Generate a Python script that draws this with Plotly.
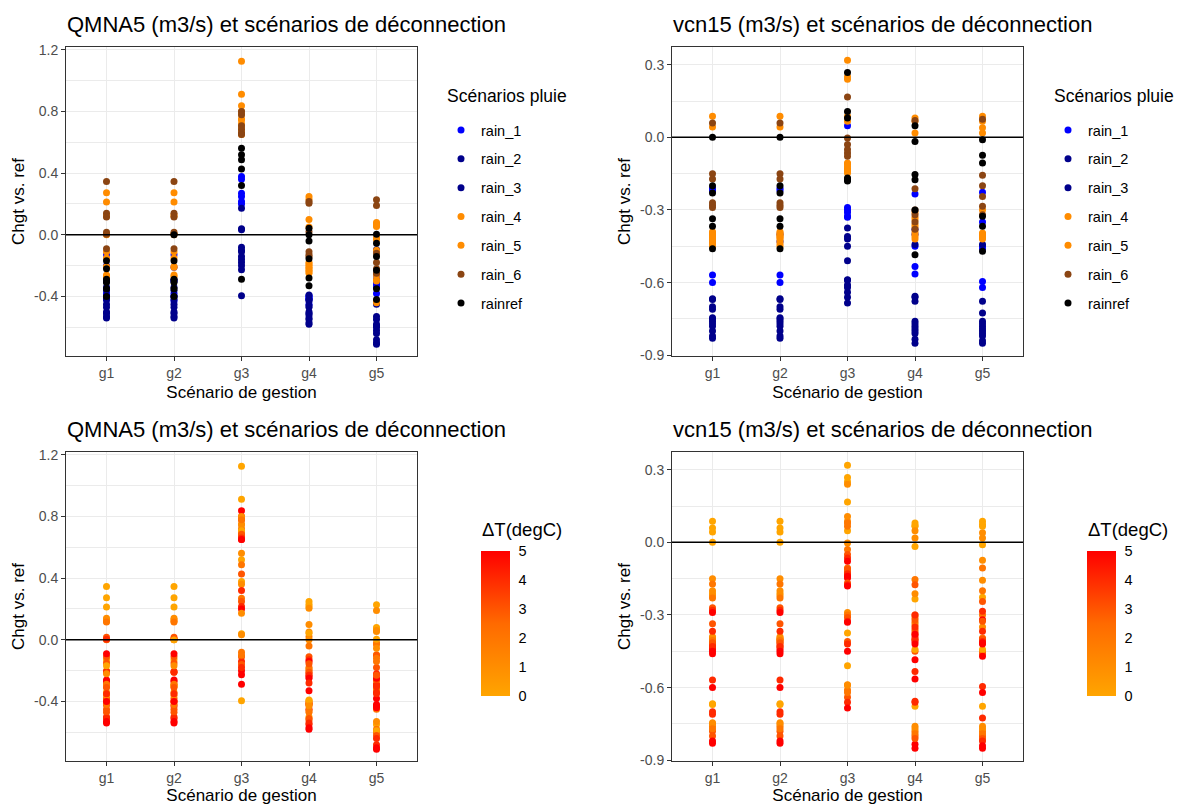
import plotly.graph_objects as go

GROUPS = ["g1", "g2", "g3", "g4", "g5"]
RAINS = ["rain_1", "rain_2", "rain_3", "rain_4", "rain_5", "rain_6", "rainref"]
RAIN_COLORS = ["#0000FF", "#00008B", "#00008B", "#FF8C00", "#FF8C00", "#8B4513", "#000000"]
DT_LEVELS = [0, 1, 2, 3, 4, 5]

# QMNA5 values: per rain scenario, per group (g1..g5), one value per DT level
q_rain_1 = [[-0.13, -0.20, -0.30, -0.38, -0.40, -0.42],
            [-0.13, -0.21, -0.30, -0.38, -0.40, -0.43],
            [0.378, 0.36, 0.27, 0.249, 0.216, 0.20],
            [-0.395, -0.40, -0.41, -0.415, -0.42, -0.45],
            [-0.324, -0.26, -0.29, -0.31, -0.34, -0.38]]
q_rain_2 = [[-0.29, -0.34, -0.40, -0.45, -0.50, -0.54],
            [-0.29, -0.34, -0.40, -0.45, -0.50, -0.54],
            [0.04, 0.173, -0.08, -0.11, -0.14, -0.20],
            [-0.50, -0.42, -0.46, -0.52, -0.55, -0.58],
            [-0.55, -0.53, -0.58, -0.60, -0.68, -0.71]]
q_rain_3 = [[-0.30, -0.36, -0.42, -0.47, -0.51, -0.53],
            [-0.30, -0.36, -0.42, -0.47, -0.51, -0.53],
            [-0.396, 0.032, -0.10, -0.16, -0.18, -0.227],
            [-0.39, -0.43, -0.47, -0.51, -0.54, -0.57],
            [-0.59, -0.097, -0.45, -0.62, -0.64, -0.70]]
q_rain_4 = [[0.272, 0.13, 0.005, -0.11, -0.205, -0.26],
            [0.272, 0.13, 0.005, -0.11, -0.205, -0.26],
            [1.125, 0.75, 0.72, 0.80, 0.78, 0.837],
            [0.249, 0.10, -0.18, -0.20, -0.22, -0.24],
            [0.08, 0.054, -0.02, -0.10, -0.29, -0.44]]
q_rain_5 = [[0.212, 0.12, 0.0, -0.15, -0.21, -0.27],
            [0.212, 0.12, 0.0, -0.15, -0.21, -0.27],
            [0.912, 0.746, 0.70, 0.68, 0.66, 0.65],
            [0.231, 0.05, -0.19, -0.21, -0.23, -0.25],
            [0.07, 0.06, -0.03, -0.26, -0.30, -0.43]]
q_rain_6 = [[0.346, 0.14, 0.115, 0.017, 0.004, -0.09],
            [0.346, 0.14, 0.115, 0.017, 0.004, -0.09],
            [0.707, 0.80, 0.778, 0.685, 0.66, 0.65],
            [0.216, 0.205, 0.02, -0.11, -0.13, -0.14],
            [0.227, 0.19, -0.12, -0.18, -0.22, -0.25]]
q_rainref = [[-0.169, -0.22, -0.288, -0.31, -0.35, -0.40],
             [0.0, -0.169, -0.288, -0.31, -0.35, -0.40],
             [0.519, 0.562, 0.486, 0.426, 0.32, -0.288],
             [0.043, 0.0, -0.04, -0.156, -0.28, -0.33],
             [0.004, -0.054, -0.14, -0.23, -0.35, -0.42]]

# vcn15 values
v_rain_1 = [[-0.21, -0.22, -0.40, -0.43, -0.568, -0.60],
            [-0.21, -0.22, -0.40, -0.43, -0.568, -0.60],
            [0.048, -0.29, -0.30, -0.31, -0.326, -0.33],
            [-0.234, -0.38, -0.40, -0.45, -0.533, -0.564],
            [-0.227, -0.35, -0.45, -0.46, -0.595, -0.62]]
v_rain_2 = [[-0.667, -0.745, -0.76, -0.78, -0.70, -0.83],
            [-0.667, -0.745, -0.76, -0.78, -0.70, -0.83],
            [-0.374, -0.588, -0.61, -0.64, -0.66, -0.684],
            [-0.677, -0.76, -0.78, -0.80, -0.656, -0.834],
            [-0.677, -0.76, -0.78, -0.80, -0.725, -0.85]]
v_rain_3 = [[-0.67, -0.75, -0.77, -0.80, -0.71, -0.82],
            [-0.67, -0.75, -0.77, -0.80, -0.71, -0.82],
            [-0.51, -0.59, -0.62, -0.41, -0.42, -0.45],
            [-0.443, -0.77, -0.79, -0.81, -0.66, -0.85],
            [-0.443, -0.77, -0.79, -0.81, -0.82, -0.84]]
v_rain_4 = [[0.087, -0.39, -0.40, -0.41, -0.42, -0.44],
            [0.087, -0.39, -0.40, -0.41, -0.42, -0.44],
            [0.318, 0.087, -0.106, -0.12, -0.135, -0.147],
            [0.08, -0.31, -0.33, -0.36, -0.39, -0.41],
            [0.087, 0.04, -0.395, -0.40, -0.41, -0.42]]
v_rain_5 = [[0.043, -0.395, -0.405, -0.415, -0.43, -0.45],
            [0.043, -0.395, -0.405, -0.415, -0.43, -0.45],
            [0.25, 0.24, 0.066, -0.11, -0.13, -0.14],
            [0.066, 0.018, -0.34, -0.37, -0.40, -0.42],
            [0.066, 0.018, -0.30, -0.40, -0.41, -0.415]]
v_rain_6 = [[0.059, -0.15, -0.172, -0.27, -0.28, -0.29],
            [0.059, -0.15, -0.172, -0.27, -0.28, -0.29],
            [0.167, -0.003, -0.03, -0.05, -0.065, -0.078],
            [0.07, -0.212, -0.30, -0.32, -0.35, -0.38],
            [0.075, -0.157, -0.20, -0.244, -0.285, -0.32]]
v_rainref = [[0.0, -0.20, -0.23, -0.336, -0.367, -0.46],
             [0.0, -0.20, -0.23, -0.336, -0.367, -0.46],
             [0.268, 0.107, 0.08, -0.168, -0.175, -0.18],
             [-0.017, 0.048, -0.154, -0.175, -0.30, -0.485],
             [-0.01, -0.074, -0.106, -0.326, -0.367, -0.47]]

Q_SERIES = [q_rain_1, q_rain_2, q_rain_3, q_rain_4, q_rain_5, q_rain_6, q_rainref]
V_SERIES = [v_rain_1, v_rain_2, v_rain_3, v_rain_4, v_rain_5, v_rain_6, v_rainref]

Q_TICKS = [-0.4, 0.0, 0.4, 0.8, 1.2]
Q_TICKTEXT = ["-0.4", "0.0", "0.4", "0.8", "1.2"]
Q_MINOR = [-0.6, -0.2, 0.2, 0.6, 1.0]
V_TICKS = [-0.9, -0.6, -0.3, 0.0, 0.3]
V_TICKTEXT = ["-0.9", "-0.6", "-0.3", "0.0", "0.3"]
V_MINOR = [-0.75, -0.45, -0.15, 0.15]

TITLE_Q = "QMNA5 (m3/s) et scénarios de déconnection"
TITLE_V = "vcn15 (m3/s) et scénarios de déconnection"
LEGEND_TITLE = "Scénarios pluie"
CBAR_TITLE = "ΔT(degC)"

W, H = 1180, 805
FONT = "Liberation Sans, Arial, sans-serif"


def px(xp):
    return xp / W


def py(yp):
    return 1 - yp / H


def flat(series):
    xs, ys, ds = [], [], []
    for g, vals in zip(GROUPS, series):
        for d, v in zip(DT_LEVELS, vals):
            xs.append(g)
            ys.append(v)
            ds.append(d)
    return xs, ys, ds


fig = go.Figure()

# top panels: coloured by rain scenario
for series_set, xa, ya, leg in [(Q_SERIES, "x", "y", "legend"), (V_SERIES, "x2", "y2", "legend2")]:
    for name, col, series in zip(RAINS, RAIN_COLORS, series_set):
        xs, ys, _ = flat(series)
        fig.add_trace(go.Scatter(
            x=xs, y=ys, mode="markers", name=name,
            marker=dict(color=col, size=7, line=dict(width=0)),
            xaxis=xa, yaxis=ya, legend=leg, legendgroup=leg + name,
        ))

# bottom panels: coloured by delta T
for series_set, xa, ya, cax in [(Q_SERIES, "x3", "y3", "coloraxis"), (V_SERIES, "x4", "y4", "coloraxis2")]:
    X, Y, D = [], [], []
    for series in series_set:
        xs, ys, ds = flat(series)
        X += xs; Y += ys; D += ds
    fig.add_trace(go.Scatter(
        x=X, y=Y, mode="markers", showlegend=False,
        marker=dict(color=D, coloraxis=cax, size=7, line=dict(width=0)),
        xaxis=xa, yaxis=ya,
    ))

# panel geometry in pixels (left, right, top, bottom)
panels = {
    "1": (66, 417, 47, 356),
    "2": (672, 1023, 47, 356),
    "3": (66, 417, 452, 761),
    "4": (672, 1023, 452, 761),
}

axis_common = dict(
    showline=True, linecolor="#333333", linewidth=1, mirror=True,
    ticks="outside", ticklen=4, tickcolor="#333333", tickwidth=1,
    tickfont=dict(family=FONT, size=14, color="#4D4D4D"),
    gridcolor="#EBEBEB", gridwidth=1.2, zeroline=False,
)

layout = dict(
    width=W, height=H, margin=dict(l=0, r=0, t=0, b=0),
    paper_bgcolor="white", plot_bgcolor="white",
    font=dict(family=FONT, color="black"),
)

for k, (l, r, t, b) in panels.items():
    sfx = "" if k == "1" else k
    is_q = k in ("1", "3")
    layout["xaxis" + sfx] = dict(
        axis_common, domain=[px(l), px(r)], anchor="y" + sfx,
        type="category", categoryorder="array", categoryarray=GROUPS,
        range=[-0.6, 4.6], showgrid=True,
        title=dict(text="Scénario de gestion", font=dict(family=FONT, size=17, color="black"), standoff=6),
        automargin=False,
    )
    layout["yaxis" + sfx] = dict(
        axis_common, domain=[py(b), py(t)], anchor="x" + sfx,
        range=[-0.786, 1.218] if is_q else [-0.903, 0.373],
        tickmode="array",
        tickvals=Q_TICKS if is_q else V_TICKS,
        ticktext=Q_TICKTEXT if is_q else V_TICKTEXT,
        minor=dict(tickmode="array", tickvals=Q_MINOR if is_q else V_MINOR,
                   showgrid=True, gridcolor="#EBEBEB", gridwidth=0.6, ticks=""),
        title=dict(text="Chgt vs. ref", font=dict(family=FONT, size=17, color="black"), standoff=5),
        automargin=False,
    )

fig.update_layout(**layout)

# zero lines
for k in ["1", "2", "3", "4"]:
    sfx = "" if k == "1" else k
    fig.add_shape(type="line", xref="x" + sfx + " domain", yref="y" + sfx,
                  x0=0, x1=1, y0=0, y1=0, line=dict(color="black", width=1.5), layer="above")

# panel titles
for (l, r, t, b), txt in zip(panels.values(), [TITLE_Q, TITLE_V, TITLE_Q, TITLE_V]):
    fig.add_annotation(text=txt, xref="paper", yref="paper", x=px(l - 1), y=py(t - 23),
                       xanchor="left", yanchor="middle", showarrow=False,
                       font=dict(family=FONT, size=22, color="black"))

# legends (titles drawn as annotations so the item spacing can match)
legend_common = dict(
    yanchor="top", xanchor="left", bgcolor="rgba(0,0,0,0)",
    font=dict(family=FONT, size=14.5, color="black"),
    tracegroupgap=7,
)
fig.update_layout(
    legend=dict(legend_common, x=px(441), y=py(114)),
    legend2=dict(legend_common, x=px(1048), y=py(114)),
)
for xl in [445, 1052]:
    fig.add_annotation(text=LEGEND_TITLE, xref="paper", yref="paper", x=px(xl), y=py(96),
                       xanchor="left", yanchor="middle", showarrow=False,
                       font=dict(family=FONT, size=17.5, color="black"))

COLORSCALE = [[0, "#FFA500"], [0.5, "#FF6A00"], [1, "#FF0000"]]
cb_common = dict(
    len=145, lenmode="pixels", thickness=29, thicknessmode="pixels",
    xanchor="left", xpad=0, ypad=0, yanchor="middle", y=py(623.5),
    outlinewidth=0, tickmode="array", tickvals=DT_LEVELS,
    ticks="outside", ticklen=6, tickcolor="rgba(255,255,255,0)", tickwidth=1,
    tickfont=dict(family=FONT, size=14.5, color="black"),
)
fig.update_layout(
    coloraxis=dict(cmin=0, cmax=5, colorscale=COLORSCALE, colorbar=dict(cb_common, x=px(481))),
    coloraxis2=dict(cmin=0, cmax=5, colorscale=COLORSCALE, colorbar=dict(cb_common, x=px(1087))),
)

# colour-bar titles
for xl in [480, 1086]:
    fig.add_annotation(text=CBAR_TITLE, xref="paper", yref="paper", x=px(xl), y=py(529),
                       xanchor="left", yanchor="middle", showarrow=False,
                       font=dict(family=FONT, size=18.5, color="black"))

# remove the default 8px page margin so the 1180x805 figure fills the window
fig.write_html("out.html", config={"displayModeBar": False},
               post_script="document.body.style.margin='0';")
